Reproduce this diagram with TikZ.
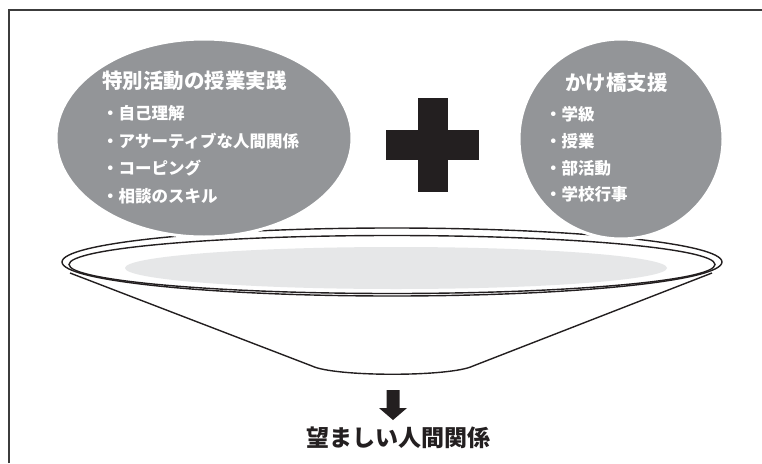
\documentclass[tikz,border=0pt]{standalone}
\usepackage{fontspec}
\newfontfamily\jp{Noto Sans CJK JP}
\usetikzlibrary{shapes.geometric}
\definecolor{ballgray}{RGB}{147,149,152}
\definecolor{lightgray}{RGB}{230,231,232}
\definecolor{ink}{RGB}{35,31,32}
\definecolor{framegray}{RGB}{60,60,60}
\tikzset{
  ball/.style={ellipse, fill=ballgray, draw=white, line width=3pt, inner sep=0pt},
  rim/.style={draw=ink, line width=1.4pt},
  titletext/.style={anchor=west, text=white, inner sep=0pt, font=\jp\bfseries\fontsize{20.5pt}{22pt}\selectfont},
  itemtext/.style={anchor=west, text=white, inner sep=0pt, font=\jp\bfseries\fontsize{16.5pt}{18pt}\selectfont},
  resulttext/.style={text=ink, inner sep=0pt, font=\jp\bfseries\fontsize{23pt}{25pt}\selectfont}
}
\begin{document}
\begin{tikzpicture}[x=1pt,y=-1pt]
\useasboundingbox (0,0) rectangle (762,463);
% frame
\draw[framegray, line width=2pt] (9,463) -- (9,10) -- (762,10);
% bowl cone
\draw[rim, fill=white] (70,273) -- (312,366) .. controls (335,377) and (450,377) .. (473,366) -- (712,273);
% rim
\draw[rim, fill=white] (392,262) ellipse [x radius=330pt, y radius=34pt];
\draw[rim] (392,264.5) ellipse [x radius=323pt, y radius=29pt];
\fill[lightgray] (396,268) ellipse [x radius=271pt, y radius=21pt];
% balls
\node[ball, minimum width=296pt, minimum height=198pt] (L) at (204,138) {};
\node[ball, minimum width=204pt, minimum height=200pt] (R) at (621,139) {};
% plus
\fill[ink] (418,98) rectangle (448,192);
\fill[ink] (386,130) rectangle (479,160);
\node[inner sep=0pt] (plus) at (433,145) {};
% left texts
\node[titletext] (lt) at (102,81) {特別活動の授業実践};
\node[itemtext] (l1) at (102,113) {・自己理解};
\node[itemtext] (l2) at (102,141) {・アサーティブな人間関係};
\node[itemtext] (l3) at (102,168) {・コーピング};
\node[itemtext] (l4) at (102,196) {・相談のスキル};
% right texts
\node[titletext] (rt) at (565,83) {かけ橋支援};
\node[itemtext] (r1) at (545,114) {・学級};
\node[itemtext] (r2) at (545,141) {・授業};
\node[itemtext] (r3) at (545,168) {・部活動};
\node[itemtext] (r4) at (545,194) {・学校行事};
% arrow and result
\fill[ink] (386.5,390) -- (399.5,390) -- (399.5,408) -- (407,408) -- (393,420) -- (379,408) -- (386.5,408) -- cycle;
\node[resulttext] (res) at (398,438) {望ましい人間関係};
\end{tikzpicture}
\end{document}
